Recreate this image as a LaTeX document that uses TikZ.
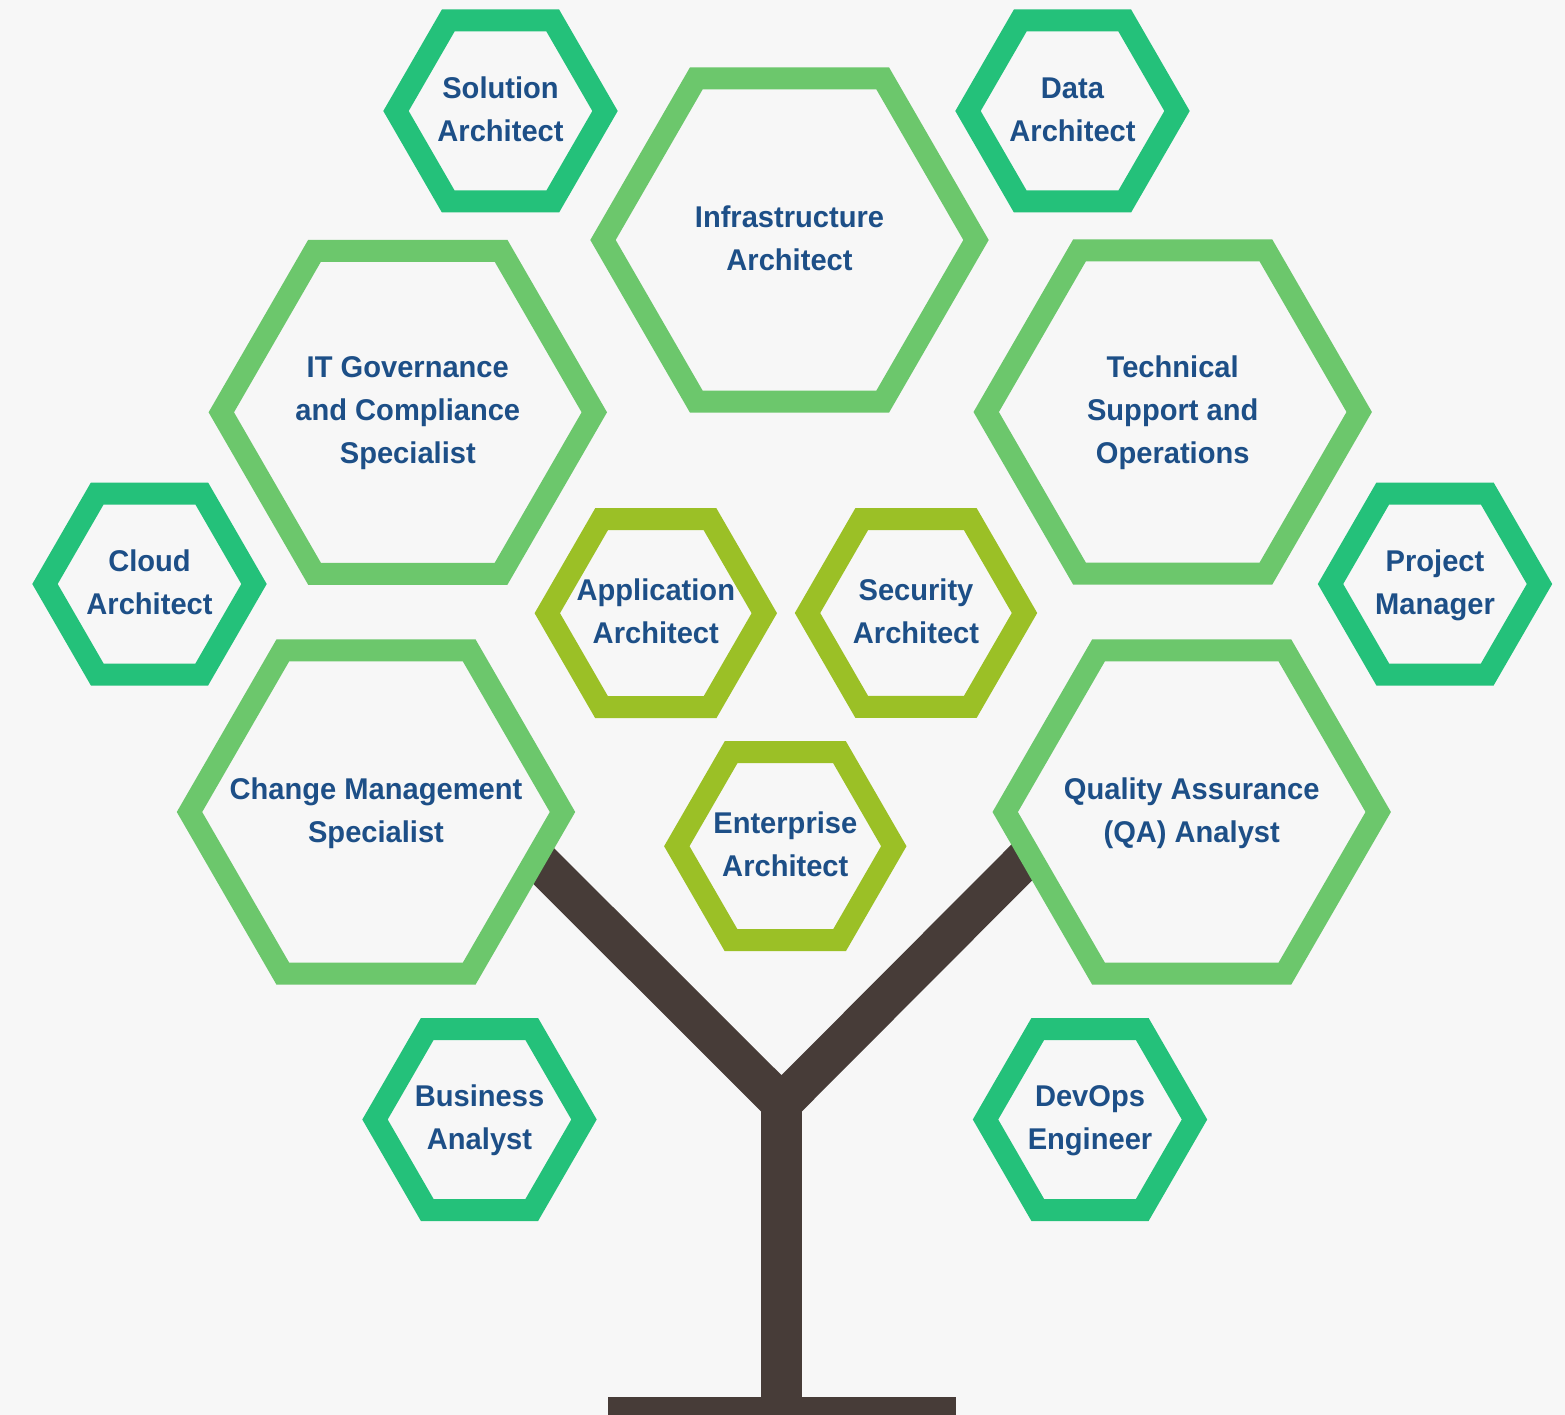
\documentclass[tikz,border=0pt]{standalone}
\usepackage{fontspec}
\newfontfamily\lblfont{Liberation Sans}[FakeStretch=0.97]
\usetikzlibrary{shapes.geometric}
\definecolor{bg}{HTML}{F7F7F7}
\definecolor{dkgreen}{HTML}{24C17A}
\definecolor{ltgreen}{HTML}{6CC76C}
\definecolor{ygreen}{HTML}{9BC026}
\definecolor{txtblue}{HTML}{1D4F87}
\definecolor{bark}{HTML}{473C38}
\newcommand\hxstrut{\rule[-5.5pt]{0pt}{29.5pt}}
\tikzset{
  hexbase/.style={regular polygon, regular polygon sides=6, inner sep=0pt, outer sep=0pt,
    line width=22pt, fill=bg},
  hexS/.style={hexbase, draw=dkgreen, minimum size=209pt},
  hexM/.style={hexbase, draw=ygreen, minimum size=217pt},
  hexL/.style={hexbase, draw=ltgreen, minimum size=373pt},
  lbl/.style={inner sep=0pt, outer sep=0pt, align=center, text=txtblue, yshift=-1pt,
    font=\lblfont\bfseries\fontsize{30pt}{43pt}\selectfont,
    execute at begin node=\hxstrut, execute at end node=\hxstrut},
  branch/.style={draw=bark, line width=40pt, line join=miter},
}
\begin{document}
\begin{tikzpicture}[x=1pt, y=-1pt]
\fill[bg] (0,0) rectangle (1565,1415);
\useasboundingbox (0,0) rectangle (1565,1415);
% tree
\coordinate (J) at (781.5,1103.5);
\coordinate (bl) at (460,782.5);
\coordinate (br) at (1100,784);
\draw[branch] (bl) -- (J) -- (br);
\fill[bark] (761,1100) rectangle (802,1415);
\fill[bark] (608,1397) rectangle (956,1415);
% small hexagons
\node[hexS] (sol) at (500.5,111) {};
\node[hexS] (data) at (1072.5,111) {};
\node[hexS] (cloud) at (149.5,584) {};
\node[hexS] (pm) at (1435,584) {};
\node[hexS] (ba) at (479.5,1119.5) {};
\node[hexS] (devops) at (1090,1119.5) {};
% large hexagons
\node[hexL] (infra) at (789.5,240) {};
\node[hexL] (itgov) at (407.8,412.3) {};
\node[hexL] (tech) at (1172.7,412) {};
\node[hexL] (change) at (376,812) {};
\node[hexL] (qa) at (1191.7,812) {};
% medium hexagons
\node[hexM] (app) at (655.8,613.2) {};
\node[hexM] (sec) at (916,613) {};
\node[hexM] (ent) at (785.3,846.2) {};
% labels
\node[lbl] (sol-t) at (sol) {Solution\\Architect};
\node[lbl] (data-t) at (data) {Data\\Architect};
\node[lbl] (cloud-t) at (cloud) {Cloud\\Architect};
\node[lbl] (pm-t) at (pm) {Project\\Manager};
\node[lbl] (ba-t) at (ba) {Business\\Analyst};
\node[lbl] (devops-t) at (devops) {DevOps\\Engineer};
\node[lbl] (infra-t) at (infra) {Infrastructure\\Architect};
\node[lbl] (itgov-t) at (itgov) {IT Governance\\and Compliance\\Specialist};
\node[lbl] (tech-t) at (tech) {Technical\\Support and\\Operations};
\node[lbl] (change-t) at (change) {Change Management\\Specialist};
\node[lbl] (qa-t) at (qa) {Quality Assurance\\(QA) Analyst};
\node[lbl] (app-t) at (app) {Application\\Architect};
\node[lbl] (sec-t) at (sec) {Security\\Architect};
\node[lbl] (ent-t) at (ent) {Enterprise\\Architect};
\end{tikzpicture}
\end{document}
